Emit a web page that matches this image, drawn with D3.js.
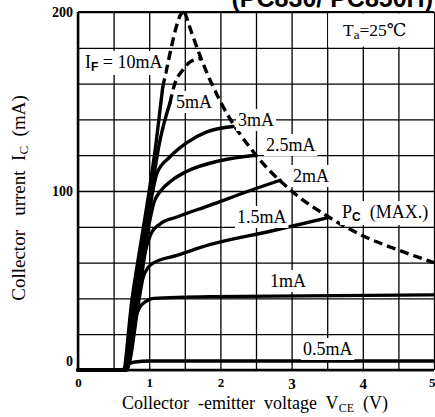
<!DOCTYPE html>
<html><head><meta charset="utf-8">
<script src="https://cdn.jsdelivr.net/npm/d3@7"></script>
<style>
html,body{margin:0;padding:0;background:#fff;}
svg{display:block;}
text{fill:#000;white-space:pre;}
</style></head>
<body>
<svg id="chart" width="435" height="417"></svg>
<script>
// ---- data ----
const xTicks = [0, 1, 2, 3, 4, 5];
const yTicks = [0, 100, 200];
const curveNames = ["10mA", "5mA", "3mA", "2.5mA", "2mA", "1.5mA", "1mA", "0.5mA"];
const ic10 = [[0,0],[0.63,0],[0.76,40],[0.92,80],[1.0,100],[1.1,128],[1.19,158]];
const ic10Dash = [[1.19,158],[1.25,169],[1.32,182],[1.39,193],[1.45,199],[1.5,200]];
const ic5 = [[0,0],[0.64,0],[0.78,40],[0.94,80],[1.03,100],[1.15,128],[1.29,149]];
const ic5Dash = [[1.29,149],[1.36,160],[1.46,167],[1.57,172],[1.72,174]];
const ic3 = [[0,0],[0.65,0],[0.81,40],[0.97,80],[1.05,100],[1.11,110],[1.29,119],[1.53,127],[1.81,133],[2.18,136]];
const ic25 = [[0,0],[0.66,0],[0.83,40],[0.99,80],[1.07,94],[1.16,100],[1.32,106],[1.53,111],[2.0,117],[2.5,120]];
const ic2 = [[0,0],[0.67,0],[0.85,40],[0.95,67],[1.03,76.5],[1.15,81.5],[1.39,85.5],[1.85,92],[2.4,100],[2.84,106]];
const ic15 = [[0,0],[0.68,0],[0.86,40],[0.91,51],[0.99,57.5],[1.07,60],[1.39,64],[1.85,70],[2.7,77.5],[3.5,85]];
const ic1 = [[0,0],[0.68,0],[0.79,27],[0.86,34.5],[0.96,38.5],[1.06,40],[1.85,41],[5,42]];
const ic05 = [[0,0],[0.63,0],[0.68,3],[0.8,4.5],[1.0,5],[5,5]];
const pcMax = [[1.5,200],[1.6,188],[1.8,167],[2.0,150],[2.5,120],[3.0,100],[3.5,86],[4.0,75],[4.5,67],[5.0,60]];

// ---- layout ----
const SERIF = "'Liberation Serif','Times New Roman','DejaVu Serif',serif";
const SANS = "'Liberation Sans',Arial,sans-serif";
const svg = d3.select("#chart");
const x = d3.scaleLinear().domain([0,5]).range([78,434]);
const y = d3.scaleLinear().domain([0,200]).range([370,12]);

// title (cropped at top, as in the reference)
svg.append("text").attr("x",433).attr("y",7).attr("text-anchor","end")
  .style("font-family",SANS).style("font-weight","bold")
  .style("font-size","25px").text("(PC830/ PC850H)");

// grid
const g = svg.append("g");
g.append("g").attr("transform",`translate(0,${y(0)})`)
  .call(d3.axisBottom(x).tickValues(d3.range(0,5.01,0.5)).tickSize(-(y(0)-y(200))).tickFormat(""))
  .call(s=>s.select(".domain").remove())
  .call(s=>s.selectAll("line").attr("stroke","#000").attr("stroke-width",1.3));
g.append("g").attr("transform",`translate(${x(0)},0)`)
  .call(d3.axisLeft(y).tickValues(d3.range(0,201,20)).tickSize(-(x(5)-x(0))).tickFormat(""))
  .call(s=>s.select(".domain").remove())
  .call(s=>s.selectAll("line").attr("stroke","#000").attr("stroke-width",1.3));

// frame
g.append("line").attr("x1",x(0)).attr("x2",x(0)).attr("y1",y(200)).attr("y2",y(0)).attr("stroke","#000").attr("stroke-width",2.5);
g.append("line").attr("x1",x(0)).attr("x2",x(5)).attr("y1",y(0)).attr("y2",y(0)).attr("stroke","#000").attr("stroke-width",2.5);
g.append("line").attr("x1",x(0)).attr("x2",x(5)).attr("y1",y(200)).attr("y2",y(200)).attr("stroke","#000").attr("stroke-width",2);

// tick labels
const xAx = svg.append("g").attr("transform",`translate(0,${y(0)})`)
  .call(d3.axisBottom(x).tickValues(xTicks).tickSize(0).tickPadding(8).tickFormat(d3.format("d")));
xAx.select(".domain").remove();
xAx.selectAll("text").style("font-family",SERIF).style("font-weight","bold")
  .style("font-size",d=> (d===3||d===4)?"15px":"13px")
  .attr("text-anchor",d=> d===5 ? "end" : "middle")
  .attr("dx",d=> d===5 ? "1px" : 0);
const yAx = svg.append("g").attr("transform",`translate(${x(0)-2},0)`)
  .call(d3.axisLeft(y).tickValues(yTicks).tickSize(0).tickPadding(3).tickFormat(d3.format("d")));
yAx.select(".domain").remove();
yAx.selectAll("text").style("font-family",SERIF).style("font-weight","bold")
  .style("font-size","14px").attr("dy",d=> d===0 ? "-0.3em" : "0.32em");

// curves
const line = d3.line().x(d=>x(d[0])).y(d=>y(d[1])).curve(d3.curveMonotoneX);
const solids = [ic10, ic5, ic3, ic25, ic2, ic15, ic1, ic05];
const cg = svg.append("g");
solids.forEach((c,i)=>{
  cg.append("path").attr("d",line(c)).attr("fill","none").attr("stroke","#000")
    .attr("stroke-width",3.4).attr("stroke-linejoin","round").attr("stroke-linecap","round")
    .attr("class","c"+curveNames[i]);
});
[ic10Dash, ic5Dash, pcMax].forEach(c=>{
  cg.append("path").attr("d",line(c)).attr("fill","none").attr("stroke","#000")
    .attr("stroke-width",3.4).attr("stroke-dasharray","9,5");
});

// labels with white background
const labels = [
  {px:85, py:68, parts:[["I",0],["F",1],[" = 10mA",0]]},
  {px:176, py:108, parts:[["5mA",0]]},
  {px:238, py:126, parts:[["3mA",0]]},
  {px:266, py:151, parts:[["2.5mA",0]]},
  {px:293, py:182, parts:[["2mA",0]]},
  {px:237, py:223, parts:[["1.5mA",0]]},
  {px:342, py:218, parts:[["P",0],["C",1],["  (MAX.)",0]]},
  {px:270, py:287, parts:[["1mA",0]]},
  {px:303, py:355, parts:[["0.5mA",0]]}
];
const lg = svg.append("g");
labels.forEach(L=>{
  const bg = lg.append("rect").attr("fill","#fff");
  const t = lg.append("text").attr("x",L.px).attr("y",L.py).style("font-size","18px").style("font-family",SERIF);
  L.parts.forEach(p=>{
    const ts = t.append("tspan").text(p[0]);
    if(p[1]){ ts.style("font-size","12px").attr("dy",3).style("font-family",SANS).style("font-weight","bold"); }
    else if(ts.node().previousSibling){ ts.attr("dy",-3); }
  });
  const b = t.node().getBBox();
  bg.attr("x",b.x-2).attr("y",b.y-1).attr("width",b.width+4).attr("height",b.height+2);
});

// Ta box
svg.append("rect").attr("x",x(3.5)+1).attr("y",y(200)+1.5).attr("width",x(5)-x(3.5)-1).attr("height",y(180)-y(200)-2.5).attr("fill","#fff");
const ta = svg.append("text").attr("x",343).attr("y",36).style("font-size","17.5px").style("font-family",SERIF);
ta.append("tspan").text("T");
ta.append("tspan").text("a").style("font-size","13px").attr("dy",3);
ta.append("tspan").text("=25℃").attr("dy",-3);

// axis titles
const xt = svg.append("text").attr("x",255).attr("y",409).attr("text-anchor","middle").style("font-size","18px").style("font-family",SERIF);
xt.append("tspan").text("Collector  -emitter  voltage  V");
xt.append("tspan").text("CE").style("font-size","12px").attr("dy",3);
xt.append("tspan").text("  (V)").attr("dy",-3);

const yt = svg.append("text").attr("transform","translate(25,198) rotate(-90)").attr("text-anchor","middle").style("font-size","19px").style("font-family",SERIF);
yt.append("tspan").text("Collector   urrent  I");
yt.append("tspan").text("C").style("font-size","13px").attr("dy",3);
yt.append("tspan").text("  (mA)").attr("dy",-3);
</script>
</body></html>
